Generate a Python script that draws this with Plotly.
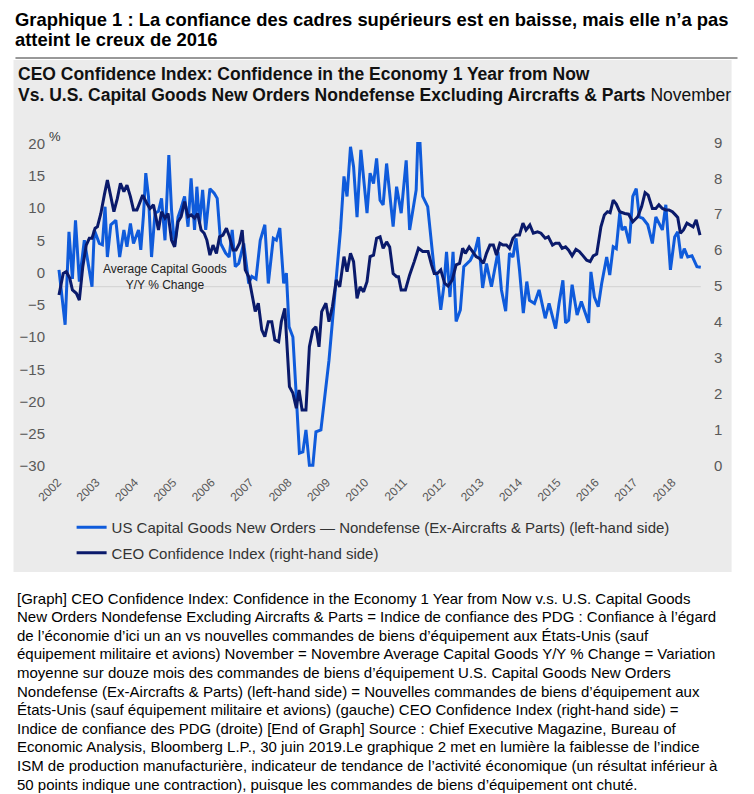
import plotly.graph_objects as go

# ---------------- data ----------------
cap_x = [2002.03, 2002.19, 2002.29, 2002.38, 2002.46, 2002.56, 2002.69, 2002.89, 2002.95, 2003.08,
         2003.16, 2003.23, 2003.29, 2003.38, 2003.51, 2003.61, 2003.72, 2003.80, 2003.89, 2003.97,
         2004.10, 2004.16, 2004.23, 2004.29, 2004.36, 2004.44, 2004.53, 2004.62, 2004.70, 2004.79,
         2004.89, 2004.96, 2005.04, 2005.13, 2005.21, 2005.30, 2005.39, 2005.47, 2005.56, 2005.62,
         2005.69, 2005.77, 2005.85, 2005.96, 2006.07, 2006.15, 2006.24, 2006.37, 2006.46, 2006.54,
         2006.62, 2006.71, 2006.84, 2006.97, 2007.05, 2007.16, 2007.27, 2007.39, 2007.48, 2007.61,
         2007.69, 2007.78, 2007.88, 2007.95, 2008.02, 2008.12, 2008.21, 2008.29, 2008.38, 2008.46,
         2008.55, 2008.64, 2008.72, 2008.85, 2009.06, 2009.23, 2009.36, 2009.45, 2009.53, 2009.62,
         2009.70, 2009.79, 2009.89, 2010.05, 2010.13, 2010.22, 2010.30, 2010.39, 2010.47, 2010.56,
         2010.73, 2010.82, 2010.94, 2011.07, 2011.16, 2011.33, 2011.37, 2011.43, 2011.50, 2011.63,
         2011.80, 2011.88, 2011.97, 2012.05, 2012.12, 2012.21, 2012.29, 2012.37, 2012.48, 2012.57,
         2012.74, 2012.87, 2012.95, 2013.06, 2013.16, 2013.29, 2013.46, 2013.55, 2013.66, 2013.76,
         2013.85, 2013.93, 2014.02, 2014.12, 2014.21, 2014.28, 2014.41, 2014.53, 2014.69, 2014.79,
         2014.96, 2015.05, 2015.15, 2015.22, 2015.30, 2015.39, 2015.52, 2015.63, 2015.82, 2015.88,
         2015.97, 2016.07, 2016.16, 2016.29, 2016.37, 2016.46, 2016.54, 2016.63, 2016.69, 2016.77,
         2016.88, 2016.97, 2017.06, 2017.14, 2017.23, 2017.36, 2017.48, 2017.57, 2017.74, 2017.83,
         2017.95, 2018.06, 2018.14, 2018.23, 2018.31, 2018.40, 2018.51, 2018.64, 2018.74]
cap_y = [0.4, -8.1, 6.3, -1.0, 8.1, -1.4, 5.0, -2.2, 6.6, 4.5,
         4.3, 10.2, 2.4, 7.4, 8.1, 2.4, 6.6, 4.0, 7.6, 4.5,
         6.6, 3.5, 8.9, 15.4, 11.8, 2.4, 9.2, 9.5, 11.5, 5.0,
         18.2, 9.7, 4.0, 8.6, 10.0, 11.8, 7.1, 14.6, 6.6, 13.3,
         7.6, 12.8, 6.6, 13.0, 12.3, 11.5, 4.5, 3.0, 2.4, 6.6,
         0.9, 1.4, 4.5, -1.7, -0.6, -1.0, 5.0, 7.4, -1.7, 5.3,
         5.0, 6.9, -1.7, -0.1, -8.4, -10.0, -19.3, -28.0, -27.8, -24.4,
         -29.9, -29.9, -24.7, -24.4, -13.6, -2.7, 6.6, 14.9, 11.8, 19.5,
         16.4, 8.6, 19.0, 9.2, 15.4, 13.8, 17.7, 11.2, 10.5, 16.9,
         7.1, 13.3, 9.2, 17.4, 6.6, 12.8, 20.0, 20.0, 11.8, 10.2,
         0.4, -0.6, -5.8, -2.2, 3.2, -3.8, 3.2, -7.6, -5.8, 0.9,
         1.9, 3.5, 5.5, -2.4, 1.4, -2.2, 3.2, -2.7, -6.0, 3.0,
         2.4, 5.3, 0.4, -6.3, -1.4, -4.3, -4.8, -2.7, -7.1, -4.8,
         -8.7, -4.8, -1.2, -7.8, -7.4, -1.9, -6.6, -4.5, -7.8, 0.1,
         -3.8, -5.3, -1.7, 2.4, -0.4, 4.0, 3.7, 9.2, 6.6, 7.1,
         4.5, 11.8, 13.0, 8.6, 8.4, 7.4, 4.5, 8.6, 6.6, 10.5,
         0.4, 5.5, 6.3, 2.2, 3.7, 2.4, 2.6, 0.9, 0.8]

ceo_x = [2002.03, 2002.14, 2002.22, 2002.31, 2002.38, 2002.48, 2002.56, 2002.65, 2002.74, 2002.82,
         2002.89, 2002.97, 2003.03, 2003.12, 2003.21, 2003.29, 2003.38, 2003.46, 2003.55, 2003.63,
         2003.72, 2003.80, 2003.89, 2003.97, 2004.06, 2004.21, 2004.32, 2004.40, 2004.49, 2004.62,
         2004.70, 2004.79, 2004.87, 2004.96, 2005.04, 2005.13, 2005.21, 2005.30, 2005.39, 2005.47,
         2005.56, 2005.64, 2005.73, 2005.81, 2005.88, 2005.96, 2006.04, 2006.13, 2006.21, 2006.30,
         2006.39, 2006.47, 2006.56, 2006.64, 2006.73, 2006.80, 2006.88, 2006.97, 2007.05, 2007.14,
         2007.22, 2007.31, 2007.39, 2007.48, 2007.57, 2007.65, 2007.75, 2007.82, 2007.91, 2008.03,
         2008.12, 2008.21, 2008.28, 2008.36, 2008.46, 2008.55, 2008.64, 2008.72, 2008.80, 2008.87,
         2008.98, 2009.06, 2009.15, 2009.25, 2009.34, 2009.45, 2009.53, 2009.62, 2009.70, 2009.79,
         2009.87, 2009.96, 2010.05, 2010.13, 2010.22, 2010.30, 2010.39, 2010.47, 2010.56, 2010.64,
         2010.73, 2010.82, 2010.87, 2010.94, 2011.05, 2011.16, 2011.28, 2011.39, 2011.50, 2011.64,
         2011.73, 2011.80, 2011.88, 2011.97, 2012.07, 2012.16, 2012.27, 2012.37, 2012.46, 2012.54,
         2012.61, 2012.71, 2012.80, 2012.89, 2012.98, 2013.08, 2013.16, 2013.25, 2013.34, 2013.42,
         2013.51, 2013.59, 2013.68, 2013.76, 2013.85, 2013.93, 2014.02, 2014.11, 2014.19, 2014.29,
         2014.38, 2014.49, 2014.58, 2014.69, 2014.77, 2014.88, 2014.96, 2015.05, 2015.13, 2015.22,
         2015.30, 2015.39, 2015.49, 2015.58, 2015.66, 2015.77, 2015.86, 2015.94, 2016.03, 2016.14,
         2016.23, 2016.31, 2016.38, 2016.46, 2016.54, 2016.63, 2016.76, 2016.86, 2016.97, 2017.10,
         2017.20, 2017.29, 2017.37, 2017.48, 2017.57, 2017.65, 2017.74, 2017.83, 2017.91, 2018.00,
         2018.08, 2018.14, 2018.21, 2018.29, 2018.38, 2018.45, 2018.54, 2018.62, 2018.72]
ceo_y = [4.75, 5.35, 5.40, 5.22, 4.89, 4.80, 4.61, 5.54, 6.14, 6.33,
         6.33, 6.61, 6.65, 7.02, 7.53, 7.95, 7.49, 7.07, 7.44, 7.86,
         7.63, 7.81, 7.49, 7.12, 7.12, 7.53, 7.30, 7.16, 7.26, 6.56,
         7.07, 6.89, 7.02, 6.28, 6.09, 6.79, 6.93, 7.35, 6.93, 6.98,
         6.89, 7.02, 6.56, 6.47, 6.28, 5.86, 6.14, 5.91, 6.37, 6.42,
         6.61, 6.37, 6.00, 6.00, 6.19, 6.56, 5.45, 5.26, 4.80, 4.29,
         4.52, 3.78, 3.59, 4.01, 4.01, 3.50, 3.45, 4.01, 4.38, 2.20,
         2.02, 1.60, 2.11, 1.55, 1.55, 3.31, 3.78, 3.87, 3.31, 4.29,
         4.52, 4.01, 4.43, 5.17, 4.98, 5.82, 5.40, 5.91, 5.68, 4.66,
         4.98, 4.84, 5.12, 5.82, 5.86, 6.33, 6.37, 6.05, 6.23, 6.09,
         5.35, 5.26, 5.26, 4.89, 4.89, 5.31, 5.68, 6.05, 5.96, 5.96,
         5.59, 5.35, 5.35, 5.45, 5.08, 5.00, 5.17, 5.59, 5.63, 6.05,
         5.91, 6.09, 5.96, 5.82, 5.77, 5.63, 5.91, 6.14, 6.14, 5.86,
         6.19, 6.14, 6.14, 6.05, 6.33, 6.42, 6.42, 6.75, 6.56, 6.70,
         6.47, 6.51, 6.47, 6.33, 6.37, 6.14, 6.19, 6.19, 6.05, 6.09,
         6.00, 5.84, 6.02, 5.96, 5.86, 5.72, 5.68, 5.84, 5.89, 6.65,
         6.98, 7.07, 7.04, 7.39, 7.28, 7.07, 7.02, 7.00, 6.79, 6.93,
         7.21, 7.60, 7.53, 7.16, 7.16, 7.26, 7.16, 7.12, 7.12, 7.07,
         6.98, 6.91, 6.47, 6.56, 6.75, 6.70, 6.65, 6.84, 6.42]

avg_capital_goods = -2.2
year_ticks = list(range(2002, 2019))
year_labels = [str(y) for y in year_ticks]
left_ticks = [-30, -25, -20, -15, -10, -5, 0, 5, 10, 15, 20]
right_ticks = list(range(0, 10))

cap_name = "US Capital Goods New Orders \u2014 Nondefense (Ex-Aircrafts & Parts) (left-hand side)"
ceo_name = "CEO Confidence Index (right-hand side)"

title_lines = ["Graphique 1 : La confiance des cadres supérieurs est en baisse, mais elle n\u2019a pas",
               "atteint le creux de 2016"]
chart_title_1 = "CEO Confidence Index: Confidence in the Economy 1 Year from Now"
chart_title_2 = "Vs. U.S. Capital Goods New Orders Nondefense Excluding Aircrafts & Parts"
chart_title_3 = "November"

body_lines = [
    "[Graph] CEO Confidence Index: Confidence in the Economy 1 Year from Now v.s. U.S. Capital Goods",
    "New Orders Nondefense Excluding Aircrafts & Parts = Indice de confiance des PDG : Confiance à l\u2019égard",
    "de l\u2019économie d\u2019ici un an vs nouvelles commandes de biens d\u2019équipement aux États-Unis (sauf",
    "équipement militaire et avions) November = Novembre Average Capital Goods Y/Y % Change = Variation",
    "moyenne sur douze mois des commandes de biens d\u2019équipement U.S. Capital Goods New Orders",
    "Nondefense (Ex-Aircrafts & Parts) (left-hand side) = Nouvelles commandes de biens d\u2019équipement aux",
    "États-Unis (sauf équipement militaire et avions) (gauche) CEO Confidence Index (right-hand side) =",
    "Indice de confiance des PDG (droite) [End of Graph] Source : Chief Executive Magazine, Bureau of",
    "Economic Analysis, Bloomberg L.P., 30 juin 2019.Le graphique 2 met en lumière la faiblesse de l\u2019indice",
    "ISM de production manufacturière, indicateur de tendance de l\u2019activité économique (un résultat inférieur à",
    "50 points indique une contraction), puisque les commandes de biens d\u2019équipement ont chuté.",
]

# ---------------- layout geometry (page pixels) ----------------
PAGE_W, PAGE_H = 754, 794
OFF = 8  # default body margin of the page
L, R, T, B = 36, 705, 135, 472
PW, PH = R - L, B - T
FONT = "Liberation Sans, Arial, sans-serif"
LIGHT = "#0F5BDB"
DARK = "#0A1A6B"
PANEL = "#EBEBEB"
TICKC = "#595959"


def px(x):
    return (x - L) / PW


def py(y):
    return 1 - (y - T) / PH


fig = go.Figure()
fig.add_trace(go.Scatter(x=cap_x, y=cap_y, name=cap_name, mode="lines",
                         line=dict(color=LIGHT, width=3), legendgroup="a"))
fig.add_trace(go.Scatter(x=ceo_x, y=ceo_y, name=ceo_name, mode="lines", yaxis="y2",
                         line=dict(color=DARK, width=3), legendgroup="b"))

shapes = [
    dict(type="rect", xref="paper", yref="paper", x0=px(3), x1=px(732), y0=py(572), y1=py(60),
         fillcolor=PANEL, line=dict(width=0), layer="below"),
    dict(type="line", xref="paper", yref="paper", x0=px(5), x1=px(738), y0=py(58), y1=py(58),
         line=dict(color="#333333", width=1)),
    dict(type="line", xref="x", yref="y", x0=cap_x[0], x1=cap_x[-1], y0=avg_capital_goods,
         y1=avg_capital_goods, line=dict(color="#D2D2D2", width=1), layer="below"),
]

ann = []
ann.append(dict(text="<b>" + title_lines[0] + "</b>", x=px(4), y=py(OFF), xref="paper", yref="paper",
                xanchor="left", yanchor="top", showarrow=False, borderpad=0,
                font=dict(family=FONT, size=18.4, color="#000000")))
ann.append(dict(text="<b>" + title_lines[1] + "</b>", x=px(4), y=py(40), xref="paper", yref="paper",
                xanchor="left", yanchor="middle", showarrow=False, borderpad=0,
                font=dict(family=FONT, size=18.4, color="#000000")))
ann.append(dict(text="<b>" + chart_title_1 + "</b>", x=px(6), y=py(74), xref="paper", yref="paper",
                xanchor="left", yanchor="middle", showarrow=False,
                font=dict(family=FONT, size=17.5, color="#111111")))
ann.append(dict(text="<b>" + chart_title_2 + "</b> " + chart_title_3, x=px(6), y=py(95), xref="paper",
                yref="paper", xanchor="left", yanchor="middle", showarrow=False,
                font=dict(family=FONT, size=17.5, color="#111111")))
ann.append(dict(text="%", x=px(37), y=py(136), xref="paper", yref="paper", xanchor="left",
                yanchor="middle", showarrow=False, font=dict(family=FONT, size=13, color="#333333")))
ann.append(dict(text="Average Capital Goods<br>Y/Y % Change", x=px(157), y=py(277), xref="paper",
                yref="paper", xanchor="center", yanchor="middle", showarrow=False,
                font=dict(family=FONT, size=12, color="#222222")))
for i, t in enumerate(body_lines):
    ann.append(dict(text=t, x=px(5), y=py(598 + 18.6 * i), xref="paper", yref="paper",
                    xanchor="left", yanchor="middle", showarrow=False,
                    font=dict(family=FONT, size=15, color="#000000")))

fig.update_layout(
    width=PAGE_W - OFF, height=PAGE_H - OFF,
    margin=dict(l=L - OFF, r=PAGE_W - R, t=T - OFF, b=PAGE_H - B, pad=0),
    paper_bgcolor="white", plot_bgcolor=PANEL,
    font=dict(family=FONT, color=TICKC),
    shapes=shapes, annotations=ann,
    showlegend=True,
    legend=dict(x=px(62), y=py(511), xanchor="left", yanchor="top", orientation="v",
                bgcolor="rgba(0,0,0,0)", itemwidth=30, tracegroupgap=3,
                font=dict(family=FONT, size=15, color="#333333")),
    xaxis=dict(range=[2001.692, 2018.85], tickvals=year_ticks, ticktext=year_labels, tickangle=-45,
               showgrid=False, zeroline=False, showline=False, ticks="",
               tickfont=dict(family=FONT, size=12, color=TICKC)),
    yaxis=dict(range=[-30.93, 21.32], tickvals=left_ticks, showgrid=False, zeroline=False,
               showline=False, ticks="", tickfont=dict(family=FONT, size=15, color=TICKC)),
    yaxis2=dict(range=[-0.175, 9.204], tickvals=right_ticks, overlaying="y", side="right",
                showgrid=False, zeroline=False, showline=False, ticks="", ticklabelstandoff=8,
                tickfont=dict(family=FONT, size=15, color=TICKC)),
)

fig.write_html("out.html")
